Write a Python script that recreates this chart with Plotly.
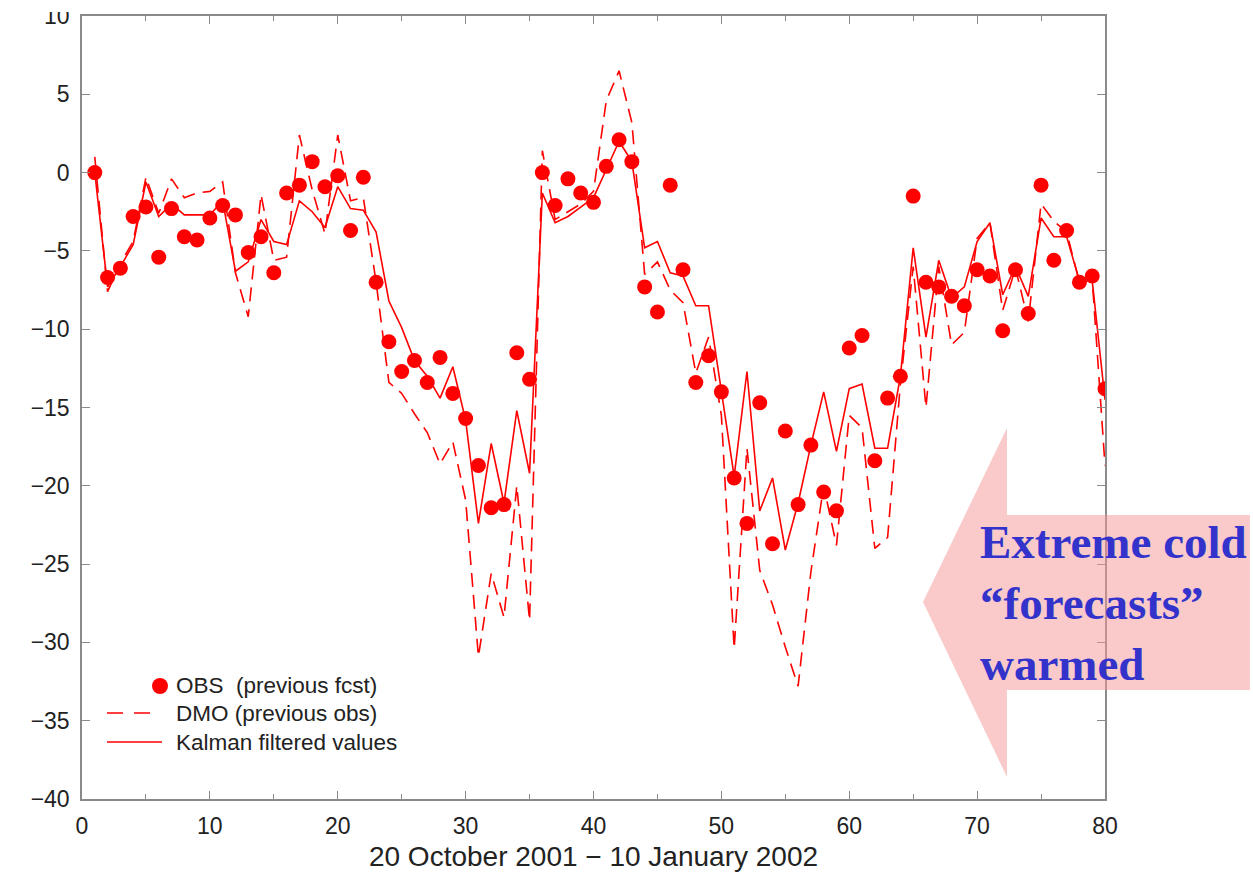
import plotly.graph_objects as go

# Day index along the period
days = list(range(1, 81))

# Observed values (previous forecast)
obs = [0.0, -6.7, -6.1, -2.8, -2.2, -5.4, -2.3, -4.1, -4.3, -2.9,
       -2.1, -2.7, -5.1, -4.1, -6.4, -1.3, -0.8, 0.7, -0.9, -0.2,
       -3.7, -0.3, -7.0, -10.8, -12.7, -12.0, -13.4, -11.8, -14.1, -15.7,
       -18.7, -21.4, -21.2, -11.5, -13.2, 0.0, -2.1, -0.4, -1.3, -1.9,
       0.4, 2.1, 0.7, -7.3, -8.9, -0.8, -6.2, -13.4, -11.7, -14.0,
       -19.5, -22.4, -14.7, -23.7, -16.5, -21.2, -17.4, -20.4, -21.6, -11.2,
       -10.4, -18.4, -14.4, -13.0, -1.5, -7.0, -7.3, -7.9, -8.5, -6.2,
       -6.6, -10.1, -6.2, -9.0, -0.8, -5.6, -3.7, -7.0, -6.6, -13.8]

# Direct model output (previous observation)
dmo = [1.0, -7.6, -5.8, -4.4, -0.3, -2.6, -0.4, -1.6, -1.3, -1.2,
       -0.6, -6.4, -9.2, -1.4, -5.6, -5.4, 2.4, -1.1, -3.9, 2.4,
       -1.8, -1.6, -7.0, -13.4, -14.1, -15.4, -16.6, -18.6, -17.2, -20.9,
       -30.9, -25.6, -28.4, -20.0, -28.6, 1.4, -3.0, -2.5, -2.0, -1.2,
       4.6, 6.5, 3.2, -6.5, -5.7, -7.5, -8.3, -12.8, -10.5, -15.5,
       -30.4, -17.6, -25.4, -27.6, -30.3, -32.8, -25.5, -20.0, -23.8, -15.5,
       -16.3, -24.0, -23.3, -13.5, -6.0, -15.0, -6.0, -11.0, -10.2, -4.2,
       -3.2, -8.8, -6.1, -9.5, -2.0, -3.1, -3.8, -7.0, -6.8, -18.7]

# Kalman filtered values
kalman = [0.0, -7.3, -6.0, -4.6, -0.6, -2.8, -2.0, -2.7, -2.7, -2.7,
          -1.8, -6.3, -5.7, -3.0, -4.4, -4.6, -1.8, -2.5, -3.5, -0.9,
          -2.3, -2.4, -3.8, -8.2, -9.9, -12.0, -13.0, -14.4, -12.4, -15.8,
          -22.4, -17.3, -21.1, -15.2, -19.2, -1.3, -3.2, -2.8, -2.2, -1.6,
          0.2, 2.0, 0.7, -4.8, -4.4, -6.4, -6.6, -8.5, -8.5, -13.8,
          -19.4, -12.7, -21.6, -19.5, -24.1, -21.1, -17.4, -14.0, -17.8, -13.8,
          -13.5, -17.6, -17.6, -13.0, -4.8, -10.5, -5.6, -8.0, -7.3, -4.4,
          -3.2, -7.8, -6.0, -7.9, -2.9, -4.1, -4.1, -6.9, -6.9, -14.5]

x_ticks = [0, 10, 20, 30, 40, 50, 60, 70, 80]
y_ticks = [-40, -35, -30, -25, -20, -15, -10, -5, 0, 5, 10]

legend_labels = ["OBS  (previous fcst)", "DMO (previous obs)", "Kalman filtered values"]
x_title = "20 October 2001 \u2212 10 January 2002"
note_lines = ["Extreme cold", "\u201cforecasts\u201d", "warmed"]

RED = "#ff0000"
W, H = 1253, 876
L, R, T, B = 82, 148, 16, 77
PW, PH = W - L - R, H - T - B


def px(xp):
    return (xp - L) / PW


def py(yp):
    return (H - B - yp) / PH


fig = go.Figure()
fig.add_trace(go.Scatter(x=days, y=kalman, mode="lines",
                         line=dict(color=RED, width=1.6),
                         showlegend=False, hoverinfo="skip"))
fig.add_trace(go.Scatter(x=days, y=dmo, mode="lines",
                         line=dict(color=RED, width=1.6, dash="14px,8px"),
                         showlegend=False, hoverinfo="skip"))
fig.add_trace(go.Scatter(x=days, y=obs, mode="markers",
                         marker=dict(color=RED, size=15, line=dict(width=0)),
                         showlegend=False, hoverinfo="skip"))

shapes = []
# pink arrow pointing left
arrow_pts = [(923, 602), (1007, 428), (1007, 515), (1250, 515),
             (1250, 690), (1007, 690), (1007, 777)]
path = "M " + " L ".join(f"{px(a):.4f},{py(b):.4f}" for a, b in arrow_pts) + " Z"
shapes.append(dict(type="path", xref="paper", yref="paper", path=path,
                   fillcolor="rgba(245,150,150,0.5)", line=dict(width=0),
                   layer="above"))

# legend samples
shapes.append(dict(type="circle", xref="paper", yref="paper",
                   x0=px(152), x1=px(168), y0=py(694), y1=py(678),
                   fillcolor=RED, line=dict(width=0)))
shapes.append(dict(type="line", xref="paper", yref="paper",
                   x0=px(107), x1=px(155), y0=py(713), y1=py(713),
                   line=dict(color=RED, width=1.6, dash="16px,11px")))
shapes.append(dict(type="line", xref="paper", yref="paper",
                   x0=px(107), x1=px(162), y0=py(742), y1=py(742),
                   line=dict(color=RED, width=1.6)))
# top strip of the page
shapes.append(dict(type="rect", xref="paper", yref="paper",
                   x0=-0.2, x1=0.0, y0=py(12), y1=py(-5),
                   fillcolor="white", line=dict(width=0), layer="above"))

annotations = []
for lbl, yy in zip(legend_labels, [685, 713, 742]):
    annotations.append(dict(xref="paper", yref="paper", x=px(174), y=py(yy),
                            xanchor="left", yanchor="middle", showarrow=False,
                            text=lbl,
                            font=dict(family="Liberation Sans, Arial", size=22.5,
                                      color="#222222")))
annotations.append(dict(xref="paper", yref="paper", x=px(978), y=py(603),
                        xanchor="left", yanchor="middle", align="left",
                        showarrow=False,
                        text="<b>" + "<br>".join(note_lines) + "</b>",
                        font=dict(family="Liberation Serif, Times New Roman, serif",
                                  size=47, color="#3333cc")))

axis_common = dict(showgrid=False, zeroline=False, showline=True,
                   linecolor="#8a8a8a", linewidth=1.5, mirror="ticks",
                   ticks="inside", tickcolor="#8a8a8a", ticklen=8, tickwidth=1.2,
                   automargin=False,
                   tickfont=dict(family="Liberation Sans, Arial", size=23,
                                 color="#222222"))

fig.update_layout(
    width=W, height=H,
    margin=dict(l=L, r=R, t=T, b=B, autoexpand=False),
    paper_bgcolor="white", plot_bgcolor="white",
    shapes=shapes, annotations=annotations,
    xaxis=dict(range=[0, 80], tickvals=x_ticks,
               minor=dict(dtick=5, ticklen=5, tickcolor="#8a8a8a", ticks="inside"),
               ticklabelstandoff=6,
               title=dict(text=x_title, standoff=8,
                          font=dict(family="Liberation Sans, Arial", size=28,
                                    color="#222222")),
               **axis_common),
    yaxis=dict(range=[-40, 10], tickvals=y_ticks, ticklabelstandoff=6,
               **axis_common),
)

fig.write_html("out.html")
